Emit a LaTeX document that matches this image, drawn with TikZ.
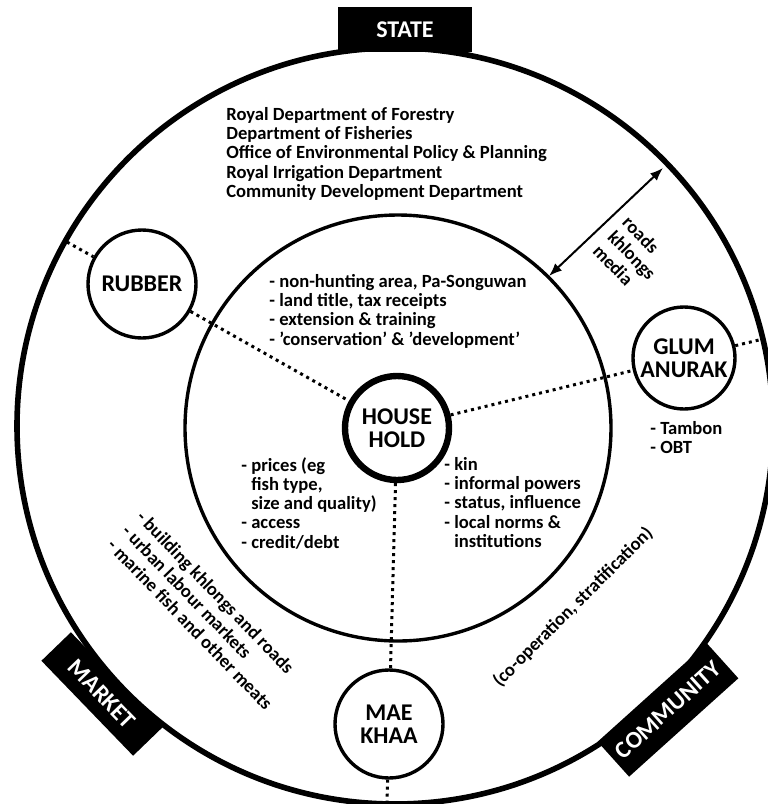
\documentclass[tikz,border=0pt]{standalone}
\usepackage{fontspec}
\setmainfont{Carlito}
\usepackage{tikz}
\usetikzlibrary{arrows.meta, positioning}

\begin{document}
\begin{tikzpicture}[
    x=0.5pt, y=-0.5pt,
    ring/.style={draw, line width=2.8pt},
    inner ring/.style={draw, line width=1.7pt},
    satellite/.style={circle, draw, line width=1.7pt, minimum size=54pt, inner sep=0pt, align=center, font=\fontsize{12}{11.5}\selectfont\bfseries},
    hub/.style={satellite, line width=3.2pt, minimum size=52pt},
    banner/.style={rectangle, fill=black, text=white, minimum height=22.5pt, inner sep=0pt, font=\fontsize{12}{12}\selectfont\bfseries},
    notes/.style={align=left, inner sep=0pt, font=\fontsize{9.3}{9.6}\selectfont\bfseries},
    slanted notes/.style={notes, font=\fontsize{9.3}{10.2}\selectfont\bfseries},
    spoke/.style={line width=1.5pt, dash pattern=on 1.5pt off 2pt},
    twoway/.style={{Latex[length=6.5pt,width=5pt]}-{Latex[length=6.5pt,width=5pt]}, line width=1pt},
]
    \useasboundingbox (0,0) rectangle (767,804);

    % Rings
    \draw[ring] (395,426) circle[radius=378];
    \draw[inner ring] (398,428) circle[radius=213];

    % Banners on the outer ring
    \node[banner, minimum width=67pt] (state) at (405,29.5) {STATE};
    \node[banner, minimum width=66pt, minimum height=20.5pt, rotate=-46] (market) at (102,694) {MARKET};
    \node[banner, minimum width=73.5pt, minimum height=23.5pt, rotate=42] (community) at (668,710) {COMMUNITY};

    % Household and satellites
    \node[hub] (house) at (397,428) {HOUSE\\HOLD};
    \node[satellite] (rubber) at (142,284) {RUBBER};
    \node[satellite, minimum size=51pt] (glum) at (684,358) {GLUM\\ANURAK};
    \node[satellite] (maekhaa) at (389,724) {MAE\\KHAA};

    % Ends of the spokes on the outer ring
    \coordinate (rubberout) at (67,242);
    \coordinate (glumout) at (763,339);
    \coordinate (maeout) at (387,804);

    % Spokes
    \draw[spoke] (rubberout) -- (rubber);
    \draw[spoke] (rubber) -- (house);
    \draw[spoke] (house) -- (glum);
    \draw[spoke] (glum) -- (glumout);
    \draw[spoke] (house) -- (maekhaa);
    \draw[spoke] (maekhaa) -- (maeout);

    % Link between the rings
    \coordinate (roadin) at (549,276);
    \coordinate (roadout) at (663,168);
    \draw[twoway] (roadin) -- (roadout);
    \node[slanted notes, rotate=-46] (roads) at (632,255) {roads\\khlongs\\media};

    % Notes
    \node[notes, anchor=north west] (agencies) at (226,107) {Royal Department of Forestry\\Department of Fisheries\\Office of Environmental Policy \& Planning\\Royal Irrigation Department\\Community Development Department};
    \node[notes, anchor=north west] (statenotes) at (269,274) {- non-hunting area, Pa-Songuwan\\- land title, tax receipts\\- extension \& training\\- 'conservation' \& 'development'};
    \node[notes, anchor=north west] (marketnotes) at (241,457) {- prices (eg\\\phantom{- }fish type,\\\phantom{- }size and quality)\\- access\\- credit/debt};
    \node[notes, anchor=north west] (communitynotes) at (444,457) {- kin\\- informal powers\\- status, influence\\- local norms \&\\\phantom{- }institutions};
    \node[notes, anchor=north west] (glumnotes) at (650,421) {- Tambon\\- OBT};
    \node[slanted notes, anchor=north west, rotate=-46] (tradenotes) at (145,509) {- building khlongs and roads\\- urban labour markets\\- marine fish and other meats};
    \node[notes, rotate=45] (coop) at (573,607) {(co-operation, stratification)};
\end{tikzpicture}
\end{document}
